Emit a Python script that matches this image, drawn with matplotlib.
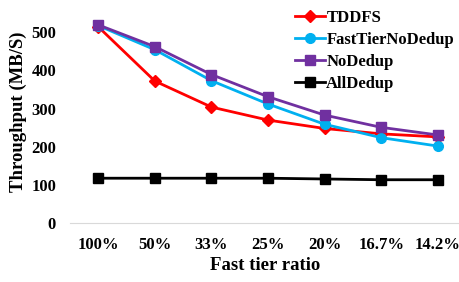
import matplotlib
matplotlib.use('Agg')
import matplotlib.pyplot as plt

plt.rcParams['font.family'] = 'Liberation Serif'
plt.rcParams['font.weight'] = 'bold'

ratios = ['100%', '50%', '33%', '25%', '20%', '16.7%', '14.2%']
tddfs = [514, 372, 304, 270, 248, 234, 226]
fast_nodedup = [517, 454, 373, 312, 259, 224, 202]
nodedup = [519, 462, 389, 331, 283, 251, 231]
alldedup = [118, 118, 118, 118, 116, 114, 114]

x = list(range(len(ratios)))

fig = plt.figure(figsize=(4.6, 2.82), dpi=100)
ax = fig.add_axes([0.152, 0.208, 0.848, 0.792])

ax.plot(x, tddfs, color='#ff0000', marker='D', markersize=6, lw=2, label='TDDFS')
ax.plot(x, fast_nodedup, color='#00b0f0', marker='o', markersize=7, lw=2, label='FastTierNoDedup')
ax.plot(x, nodedup, color='#7030a0', marker='s', markersize=7, lw=2, label='NoDedup')
ax.plot(x, alldedup, color='black', marker='s', markersize=7, lw=2, label='AllDedup')

ax.set_xlim(-0.5, 6.39)
ax.set_ylim(0, 584)
ax.set_yticks([0, 100, 200, 300, 400, 500])
ax.set_xticks(x)
ax.set_xticklabels(ratios)
ax.tick_params(length=0, labelsize=12)
ax.tick_params(axis='x', pad=10)
ax.tick_params(axis='y', pad=10)
for s in ['top', 'right', 'left']:
    ax.spines[s].set_visible(False)
ax.spines['bottom'].set_color('#d9d9d9')

ax.set_xlabel('Fast tier ratio', fontsize=13.5, fontweight='bold', labelpad=3)
ax.set_ylabel('Throughput (MB/S)', fontsize=13.5, fontweight='bold', labelpad=3)

ax.legend(loc='upper right', bbox_to_anchor=(1.01, 1.0), frameon=False, fontsize=12,
          handlelength=1.8, handletextpad=0.1, labelspacing=0.35, borderaxespad=0.2)

fig.savefig('out.png', dpi=100)
